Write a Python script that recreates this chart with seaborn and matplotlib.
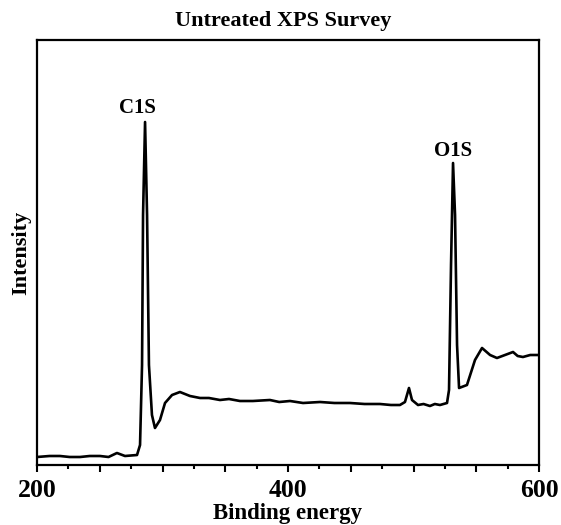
import matplotlib
matplotlib.use("Agg")
import matplotlib.pyplot as plt
from matplotlib.ticker import MultipleLocator, FuncFormatter
import seaborn as sns
import pandas as pd

binding_energy = [200.0, 210.0, 218.3, 226.0, 234.3, 242.0, 250.2, 257.0, 263.7, 270.1,
                  279.7, 282.1, 283.7, 284.5, 286.1, 287.7, 289.2, 291.6, 294.0, 298.0,
                  302.0, 307.6, 313.9, 321.9, 329.9, 337.0, 345.8, 353.0, 361.7, 372.0,
                  385.6, 393.0, 401.6, 412.0, 425.5, 437.0, 449.4, 461.0, 473.3, 482.0,
                  489.2, 493.2, 496.4, 498.8, 503.6, 508.0, 513.1, 517.0, 521.1, 526.7,
                  528.3, 529.9, 531.5, 533.1, 534.7, 536.3, 542.6, 549.0, 554.6, 561.0,
                  566.5, 572.9, 579.3, 583.0, 587.2, 593.0, 600.0]
intensity = [8, 9, 9, 8, 8, 9, 9, 8, 12, 9,
             10, 20, 100, 250, 343, 250, 100, 50, 37, 45,
             62, 70, 73, 69, 67, 67, 65, 66, 64, 64,
             65, 63, 64, 62, 63, 62, 62, 61, 61, 60,
             60, 63, 77, 65, 60, 61, 59, 61, 60, 62,
             75, 200, 302, 250, 120, 77, 80, 105, 117, 110,
             107, 110, 113, 109, 108, 110, 110]

peak_labels = ["C1S", "O1S"]
peak_x = [279.7, 531.5]
peak_y = [357, 314]

df = pd.DataFrame({"Binding energy": binding_energy, "Intensity": intensity})

sns.set_style("ticks")
plt.rcParams['font.family'] = ['Liberation Serif', 'DejaVu Serif']
plt.rcParams['font.weight'] = 'bold'
plt.rcParams['text.color'] = 'black'
plt.rcParams['axes.labelcolor'] = 'black'
plt.rcParams['xtick.color'] = 'black'
plt.rcParams['ytick.color'] = 'black'

fig = plt.figure(figsize=(5.61, 5.25), dpi=100)
ax = fig.add_axes([37/561, 60/525, 502/561, 425/525])
sns.lineplot(data=df, x="Binding energy", y="Intensity", ax=ax, color="black", linewidth=1.9)

ax.set_xlim(200, 600)
ax.set_ylim(0, 425)
ax.set_yticks([])
ax.xaxis.set_major_locator(MultipleLocator(50))
ax.xaxis.set_minor_locator(MultipleLocator(25))
ax.xaxis.set_major_formatter(FuncFormatter(lambda v, p: f"{int(round(v))}" if int(round(v)) % 200 == 0 else ""))
ax.tick_params(axis="x", which="major", length=5, width=1.5, labelsize=18.5, pad=5, colors="black")
ax.tick_params(axis="x", which="minor", length=3, width=1.5, colors="black")
for s in ax.spines.values():
    s.set_linewidth(1.6)
    s.set_color("black")
for lbl in ax.get_xticklabels():
    lbl.set_fontweight("bold")

ax.set_xlabel("Binding energy", fontsize=16.5, fontweight="bold", labelpad=1, color="black")
ax.set_ylabel("Intensity", fontsize=16, fontweight="bold", labelpad=4, color="black")
ax.set_title("Untreated XPS Survey", fontsize=16, fontweight="bold", pad=10, color="black", x=0.49)

for t, x, y in zip(peak_labels, peak_x, peak_y):
    ax.text(x, y, t, ha="center", va="center", fontsize=15, fontweight="bold", color="black")

fig.savefig("out.png", dpi=100)
